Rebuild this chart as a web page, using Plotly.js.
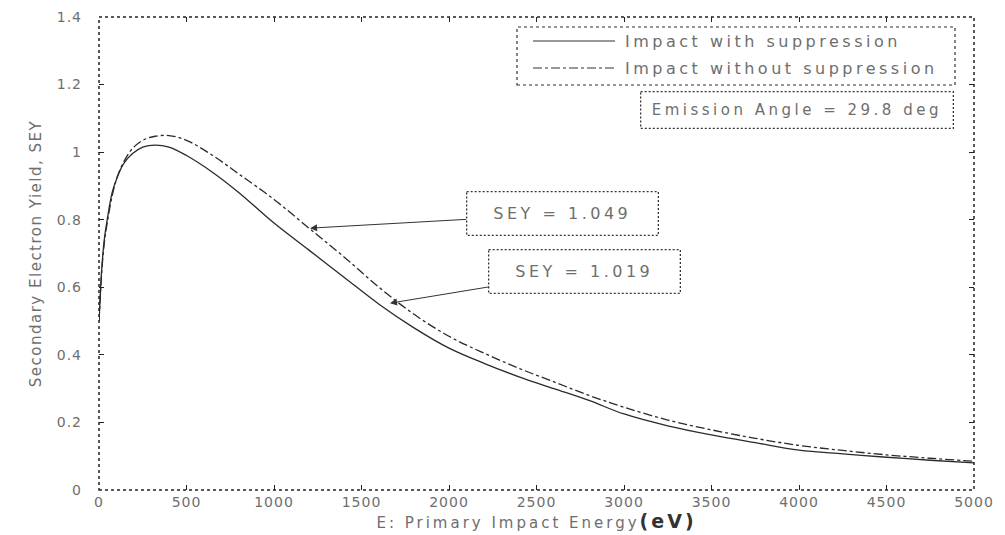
<!DOCTYPE html>
<html>
<head>
<meta charset="utf-8">
<script src="https://cdn.plot.ly/plotly-3.0.1.min.js"></script>
<style>
html,body{margin:0;padding:0;background:#fff;}
#chart{width:1005px;height:535px;}
#chart .annotation-text{letter-spacing:3.5px;}
#chart .annotation .bg{stroke-dasharray:2,2;}
#chart .xtitle{letter-spacing:3px;}
#chart .ytitle{letter-spacing:1.5px;}
#chart .xtick text,#chart .ytick text{letter-spacing:1px;}
</style>
</head>
<body>
<div id="chart"></div>
<script>
// Primary impact energy (eV)
const energy = [0, 5, 15, 30, 50, 75, 100, 140, 190, 250, 320, 400, 500, 650, 800, 1000, 1200, 1400, 1600, 1800, 2000, 2200, 2400, 2600, 2800, 3000, 3250, 3500, 3750, 4000, 4250, 4500, 4750, 5000];
// SEY, impact with suppression (solid)
const seyWith = [0.50, 0.55, 0.65, 0.74, 0.81, 0.88, 0.92, 0.965, 0.995, 1.015, 1.021, 1.015, 0.99, 0.94, 0.88, 0.79, 0.71, 0.63, 0.55, 0.48, 0.42, 0.375, 0.335, 0.30, 0.265, 0.225, 0.19, 0.163, 0.14, 0.118, 0.107, 0.097, 0.088, 0.08];
// SEY, impact without suppression (dash-dot)
const seyWithout = [0.50, 0.55, 0.64, 0.73, 0.80, 0.87, 0.92, 0.97, 1.01, 1.035, 1.047, 1.049, 1.035, 0.99, 0.935, 0.86, 0.775, 0.69, 0.60, 0.52, 0.455, 0.405, 0.36, 0.32, 0.28, 0.245, 0.207, 0.178, 0.153, 0.132, 0.117, 0.104, 0.094, 0.085];

const seriesNames = ['Impact with suppression', 'Impact without suppression'];
const xTicks = [0, 500, 1000, 1500, 2000, 2500, 3000, 3500, 4000, 4500, 5000];
const yTicks = [0, 0.2, 0.4, 0.6, 0.8, 1, 1.2, 1.4];
const yTickText = ['0', '0.2', '0.4', '0.6', '0.8', '1', '1.2', '1.4'];

// callouts: [energy, sey, label, boxEnergy, boxSey]
const callouts = [
  [1206, 0.775, 'SEY = 1.049', 2646, 0.817],
  [1663, 0.553, 'SEY = 1.019', 2777, 0.648]
];
const angleLabel = 'Emission Angle = 29.8 deg';

const txtColor = '#6e6e6e';
const fontFam = 'DejaVu Sans, Arial, sans-serif';

const traces = [
  {x: energy, y: seyWith, mode: 'lines', name: seriesNames[0], line: {color: '#2a2a2a', width: 1.3, shape: 'spline'}, showlegend: false},
  {x: energy, y: seyWithout, mode: 'lines', name: seriesNames[1], line: {color: '#2a2a2a', width: 1.3, dash: 'dashdot', shape: 'spline'}, showlegend: false}
];

const axisCommon = {
  showgrid: false, zeroline: false, showline: false,
  ticks: 'inside', ticklen: 5, tickcolor: '#222', tickwidth: 1,
  mirror: 'ticks',
  tickfont: {family: fontFam, size: 14, color: txtColor}
};

const px = v => (v - 99) / 875;
const py = v => (490 - v) / 473;

const layout = {
  width: 1005, height: 535,
  margin: {l: 99, r: 31, t: 17, b: 45},
  paper_bgcolor: '#fff', plot_bgcolor: '#fff',
  showlegend: false,
  xaxis: Object.assign({}, axisCommon, {
    range: [0, 5000], tickvals: xTicks, ticktext: xTicks.map(String),
    ticklabelstandoff: 2,
    title: {text: 'E: Primary Impact Energy<span style="font-size:19px;font-weight:bold;color:#333">(eV)</span>', font: {family: fontFam, size: 15, color: txtColor}, standoff: 3}
  }),
  yaxis: Object.assign({}, axisCommon, {
    range: [0, 1.4], tickvals: yTicks, ticktext: yTickText,
    ticklabelstandoff: 16,
    title: {text: 'Secondary Electron Yield, SEY', font: {family: fontFam, size: 15, color: txtColor}, standoff: 14}
  }),
  shapes: [
    {type: 'rect', xref: 'paper', yref: 'paper', x0: 0, x1: 1, y0: 0, y1: 1, line: {color: '#222', width: 1.5, dash: 'dot'}},
    // legend box and sample lines
    {type: 'rect', xref: 'paper', yref: 'paper', x0: px(517), x1: px(955), y0: py(85), y1: py(27), line: {color: '#333', width: 1.2, dash: 'dot'}, fillcolor: '#fff'},
    {type: 'line', xref: 'paper', yref: 'paper', x0: px(533), x1: px(615), y0: py(41), y1: py(41), line: {color: '#333', width: 1.2}},
    {type: 'line', xref: 'paper', yref: 'paper', x0: px(533), x1: px(615), y0: py(68), y1: py(68), line: {color: '#333', width: 1.2, dash: 'dashdot'}}
  ],
  annotations: [
    {xref: 'paper', yref: 'paper', x: px(623), y: py(41), xanchor: 'left', yanchor: 'middle', align: 'left', width: 328, text: seriesNames[0], showarrow: false, font: {family: fontFam, size: 16, color: txtColor}},
    {xref: 'paper', yref: 'paper', x: px(623), y: py(68), xanchor: 'left', yanchor: 'middle', align: 'left', width: 328, text: seriesNames[1], showarrow: false, font: {family: fontFam, size: 16, color: txtColor}},
    {xref: 'paper', yref: 'paper', x: px(797), y: py(110), xanchor: 'center', yanchor: 'middle', text: angleLabel, showarrow: false, font: {family: fontFam, size: 15, color: txtColor},
     bordercolor: '#333', borderwidth: 1.3, borderpad: 8, width: 295, height: 19, bgcolor: '#fff'}
  ].concat(callouts.map(c => ({
    x: c[0], y: c[1], xref: 'x', yref: 'y',
    ax: c[3], ay: c[4], axref: 'x', ayref: 'y',
    text: c[2], showarrow: true, arrowhead: 2, arrowsize: 1.4, arrowwidth: 1, arrowcolor: '#333',
    font: {family: fontFam, size: 16, color: txtColor},
    bordercolor: '#333', borderwidth: 1.3, borderpad: 10, width: 170, height: 22, bgcolor: '#fff'
  })))
};

Plotly.newPlot('chart', traces, layout, {displayModeBar: false, staticPlot: true});
</script>
</body>
</html>
